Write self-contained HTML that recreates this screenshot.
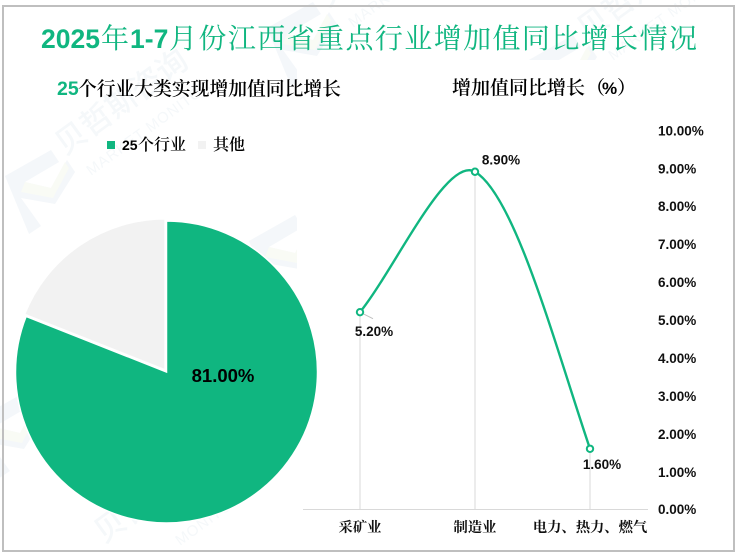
<!DOCTYPE html>
<html lang="zh">
<head>
<meta charset="utf-8">
<title>2025年1-7月份江西省重点行业增加值同比增长情况</title>
<style>
html,body{margin:0;padding:0;background:#fff;width:739px;height:557px;overflow:hidden;}
#stage{position:relative;width:739px;height:557px;overflow:hidden;background:#fff;}
svg{position:absolute;left:0;top:0;display:block;}
.cjk{font-family:"Noto Serif CJK SC","Liberation Serif",serif;}
.num{font-family:"Liberation Sans","Noto Sans CJK SC",sans-serif;font-weight:700;}
</style>
</head>
<body>
<div id="stage">
<svg id="chart" width="739" height="557" viewBox="0 0 739 557" xmlns="http://www.w3.org/2000/svg">
  <defs>
    <clipPath id="wm-clip"><path d="M0 0 H739 V60 H297 V557 H0 Z"/></clipPath>
  </defs>
  <g id="watermarks" clip-path="url(#wm-clip)"></g>
  <rect x="3" y="6" width="731" height="545" fill="none" stroke="#bfbfbf" stroke-width="2"/>
  <text y="48" fill="#10b680" font-size="28"><tspan class="num" x="41" font-size="26.5">2025</tspan><tspan class="cjk" x="101">年</tspan><tspan class="num" x="130" font-size="26.5">1-7</tspan><tspan class="cjk" x="169" textLength="528" lengthAdjust="spacing">月份江西省重点行业增加值同比增长情况</tspan></text>
  <text y="95" font-size="18.8" fill="#000"><tspan class="num" x="57" fill="#10b680" font-size="19.5">25</tspan><tspan class="cjk" x="78" font-weight="600">个行业大类实现增加值同比增长</tspan></text>
  <text y="94" class="cjk" font-weight="600" font-size="19" fill="#000"><tspan x="452">增加值同比增长</tspan><tspan x="586">（</tspan><tspan x="602" class="num" font-size="17">%</tspan><tspan x="617">）</tspan></text>
  <g>
    <g>
      <rect x="107" y="141" width="8" height="8" fill="#10b680"/>
      <text y="150" font-size="16" fill="#000"><tspan class="num" x="122" font-size="14">25</tspan><tspan class="cjk" x="138" font-weight="600">个行业</tspan></text>
    </g>
    <g>
      <rect x="198" y="141" width="8" height="8" fill="#f2f2f2"/>
      <text x="213" y="150" class="cjk" font-weight="600" font-size="16" fill="#000">其他</text>
    </g>
  </g>
  <g id="pie"></g>
  <g id="line"></g>
</svg>
</div>
<script>
const pieLabels = ['25个行业', '其他'];
const pieValues = [81, 19];
const pieValueLabels = ['81.00%'];
const categories = ['采矿业', '制造业', '电力、热力、燃气'];
const growthValues = [5.2, 8.9, 1.6];
const growthLabels = ['5.20%', '8.90%', '1.60%'];
const yTickValues = [0, 1, 2, 3, 4, 5, 6, 7, 8, 9, 10];
const yTickLabels = ['0.00%', '1.00%', '2.00%', '3.00%', '4.00%', '5.00%', '6.00%', '7.00%', '8.00%', '9.00%', '10.00%'];

const NS = 'http://www.w3.org/2000/svg';
function mk(tag, attrs, parent) {
  const el = document.createElementNS(NS, tag);
  Object.keys(attrs).forEach(function (k) { el.setAttribute(k, attrs[k]); });
  parent.appendChild(el);
  return el;
}

/* ---------- watermarks ---------- */
const wm = document.getElementById('watermarks');
const wmOrigins = [[3, 150], [247, 215], [265, 2], [525, 35], [-28, 395]];
wmOrigins.forEach(function (o) {
  const g = mk('g', { transform: 'translate(' + o[0] + ' ' + o[1] + ')' }, wm);
  
  
  mk('path', { d: 'M2 26 L48 0 L56 12 L22 32 L48 38 L64 10 L72 22 L52 54 L18 48 L38 76 L26 84 Z', fill: '#f4f7fa' }, g);
  mk('path', { d: 'M22 32 L48 38 L62 12 L66 18 L50 48 L18 42 Z', fill: '#f9fbf5' }, g);
  const t1 = mk('text', { x: 62, y: 6, transform: 'rotate(-36 62 6)', 'font-size': 31, 'font-weight': 500, fill: '#f5f8fa', 'font-family': '"Noto Sans CJK SC", sans-serif' }, g);
  t1.textContent = '贝哲斯咨询';
  const t2 = mk('text', { x: 88, y: 26, transform: 'rotate(-36 88 26)', 'font-size': 15, 'font-weight': 400, 'letter-spacing': 1, fill: '#f5f8fa', 'font-family': '"Liberation Sans", sans-serif' }, g);
  t2.textContent = 'MARKET MONITOR';
});
const wmBottomA = mk('text', { x: 104, y: 544, transform: 'rotate(-36 104 544)', 'font-size': 31, 'font-weight': 500, fill: '#f5f8fa', 'font-family': '"Noto Sans CJK SC", sans-serif' }, wm);


wmBottomA.textContent = '贝哲斯';
const wmBottomB = mk('text', { x: 180, y: 546, transform: 'rotate(-36 180 546)', 'font-size': 15, 'letter-spacing': 1, fill: '#f5f8fa', 'font-family': '"Liberation Sans", sans-serif' }, wm);


wmBottomB.textContent = 'MONITOR';

/* ---------- pie ---------- */
const pieG = document.getElementById('pie');
const pieCx = 166.5, pieCy = 372, pieR = 151;
const pieColors = ['#10b680', '#f2f2f2'];
const pieOffsets = [0, 2.6];
const pieTotal = pieValues.reduce(function (a, b) { return a + b; }, 0);
function polar(cx, cy, r, frac) {
  const a = frac * 2 * Math.PI;
  return [cx + r * Math.sin(a), cy - r * Math.cos(a)];
}
let pieStart = 0;
pieValues.forEach(function (v, i) {
  const frac = v / pieTotal;
  const mid = pieStart + frac / 2;
  const c = polar(pieCx, pieCy, pieOffsets[i], mid);
  const p0 = polar(c[0], c[1], pieR, pieStart);
  const p1 = polar(c[0], c[1], pieR, pieStart + frac);
  const slice = mk('path', {
    d: 'M' + c[0] + ' ' + c[1] + ' L' + p0[0] + ' ' + p0[1] + ' A' + pieR + ' ' + pieR + ' 0 ' + (frac > 0.5 ? 1 : 0) + ' 1 ' + p1[0] + ' ' + p1[1] + ' Z',
    fill: pieColors[i], stroke: '#fff', 'stroke-width': 1.5
  }, pieG);
  
  
  pieStart += frac;
});
const pieLabel = mk('text', { x: 223, y: 382, 'text-anchor': 'middle', 'font-size': 18.5, fill: '#000', class: 'num' }, pieG);


pieLabel.textContent = pieValueLabels[0];

/* ---------- line chart ---------- */
const lineG = document.getElementById('line');
const yZero = 509.5, yUnit = 37.95, xFirst = 360, xStep = 115;
function yScale(v) { return yZero - v * yUnit; }
function xScale(i) { return xFirst + i * xStep; }

const axis = mk('line', { x1: 303, x2: 648, y1: yZero, y2: yZero, stroke: '#d9d9d9', 'stroke-width': 1 }, lineG);



yTickValues.forEach(function (v, i) {
  const t = mk('text', { x: 658, y: yScale(v) + (v === 0 ? 4.5 : 5.3), 'font-size': 13.5, fill: '#111', class: 'num' }, lineG);
  
  
  t.textContent = yTickLabels[i];
});

categories.forEach(function (c, i) {
  const t = mk('text', { x: xScale(i), y: 532, 'text-anchor': 'middle', 'font-size': 14.3, 'font-weight': 700, fill: '#111', class: 'cjk' }, lineG);
  
  
  t.textContent = c;
});

growthValues.forEach(function (v, i) {
  const d = mk('line', { x1: xScale(i), x2: xScale(i), y1: yScale(v), y2: yZero, stroke: '#d9d9d9', 'stroke-width': 1 }, lineG);
  
  
});

const pts = growthValues.map(function (v, i) { return [xScale(i), yScale(v)]; });
let dPath = 'M' + pts[0][0] + ' ' + pts[0][1];
for (let i = 0; i < pts.length - 1; i++) {
  const p1 = pts[i], p2 = pts[i + 1];
  const dx = p2[0] - p1[0], dy = p2[1] - p1[1];
  let c1, c2;
  if (i === 0) {
    c1 = [p1[0] + dx * 0.304, p1[1] + dy * 0.31];
  } else {
    const p0 = pts[i - 1];
    c1 = [p1[0] + (p2[0] - p0[0]) * 0.174, p1[1] + (p2[1] - p0[1]) * 0.174];
  }
  if (i === pts.length - 2) {
    c2 = [p2[0] - dx * 0.304, p2[1] - dy * 0.374];
  } else {
    const p3 = pts[i + 2];
    c2 = [p2[0] - (p3[0] - p1[0]) * 0.122, p2[1] - (p3[1] - p1[1]) * 0.122];
  }
  dPath += ' C' + c1[0] + ' ' + c1[1] + ' ' + c2[0] + ' ' + c2[1] + ' ' + p2[0] + ' ' + p2[1];
}
const curve = mk('path', { d: dPath, fill: 'none', stroke: '#10b680', 'stroke-width': 2.4 }, lineG);



const leader = mk('line', { x1: pts[0][0] + 2, y1: pts[0][1] + 1, x2: pts[0][0] + 13, y2: pts[0][1] + 6.5, stroke: '#bfbfbf', 'stroke-width': 1 }, lineG);



const labelDx = [14, 26, 12];
const labelDy = [24, -7, 20];
growthValues.forEach(function (v, i) {
  const m = mk('circle', { cx: pts[i][0], cy: pts[i][1], r: 3.2, fill: '#fff', stroke: '#10b680', 'stroke-width': 2 }, lineG);
  
  
  const t = mk('text', { x: pts[i][0] + labelDx[i], y: pts[i][1] + labelDy[i], 'text-anchor': 'middle', 'font-size': 13.5, fill: '#111', class: 'num' }, lineG);
  
  
  t.textContent = growthLabels[i];
});
</script>
</body>
</html>
